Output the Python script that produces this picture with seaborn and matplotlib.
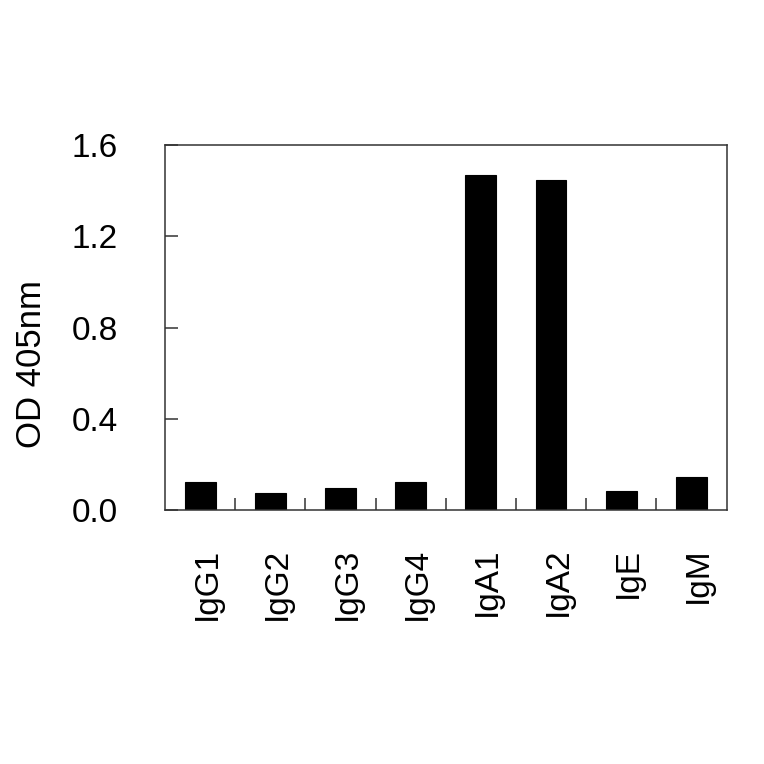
import matplotlib
matplotlib.use("Agg")
import matplotlib.pyplot as plt
import matplotlib.transforms as mtransforms
import seaborn as sns
import pandas as pd
import numpy as np

categories = ["IgG1", "IgG2", "IgG3", "IgG4", "IgA1", "IgA2", "IgE", "IgM"]
od405 = [0.124, 0.076, 0.095, 0.124, 1.467, 1.447, 0.083, 0.143]
yticks = [0.0, 0.4, 0.8, 1.2, 1.6]
ytick_labels = ["0.0", "0.4", "0.8", "1.2", "1.6"]

sns.set_theme(style="white")
plt.rcParams['font.family'] = ['Liberation Sans', 'DejaVu Sans']

df = pd.DataFrame({"cat": categories, "od": od405})

fig = plt.figure(figsize=(7.64, 7.64), dpi=100)
ax = fig.add_axes([165/764, 1-510/764, (726.5-165)/764, (510-145)/764])

sns.barplot(data=df, x="cat", y="od", color="black", width=0.44,
            saturation=1, edgecolor="black", linewidth=0.8, ax=ax)

ax.set_xlim(-0.5, len(categories)-0.5)
ax.set_ylim(0, 1.6)
ax.set_yticks(yticks)
ax.set_yticklabels(ytick_labels)
ax.set_xlabel("")
ax.set_ylabel("OD 405nm", fontsize=25, color="black")
ax.yaxis.set_label_coords(-0.237, 0.40)
ax.yaxis.label.set_verticalalignment("center")

for s in ax.spines.values():
    s.set_color("#333333")
    s.set_linewidth(1.1)
    s.set_visible(True)

ax.tick_params(axis="y", direction="in", length=9, width=1.1, color="#333333",
               labelsize=24, pad=34, labelcolor="black", left=True)
ax.set_xticks(np.arange(len(categories)))
ax.set_xticklabels(categories, rotation=90, va="top", ha="center")
ax.tick_params(axis="x", which="major", length=0, labelsize=24, pad=27, labelcolor="black")
ax.set_xticks(np.arange(len(categories)-1) + 0.5, minor=True)
ax.tick_params(axis="x", which="minor", direction="in", length=9, width=1.1,
               color="#333333", bottom=True)

offset = mtransforms.ScaledTranslation(7/100, 0, fig.dpi_scale_trans)
for lbl in ax.get_xticklabels():
    lbl.set_transform(lbl.get_transform() + offset)

fig.savefig("out.png", dpi=100, facecolor="white")
